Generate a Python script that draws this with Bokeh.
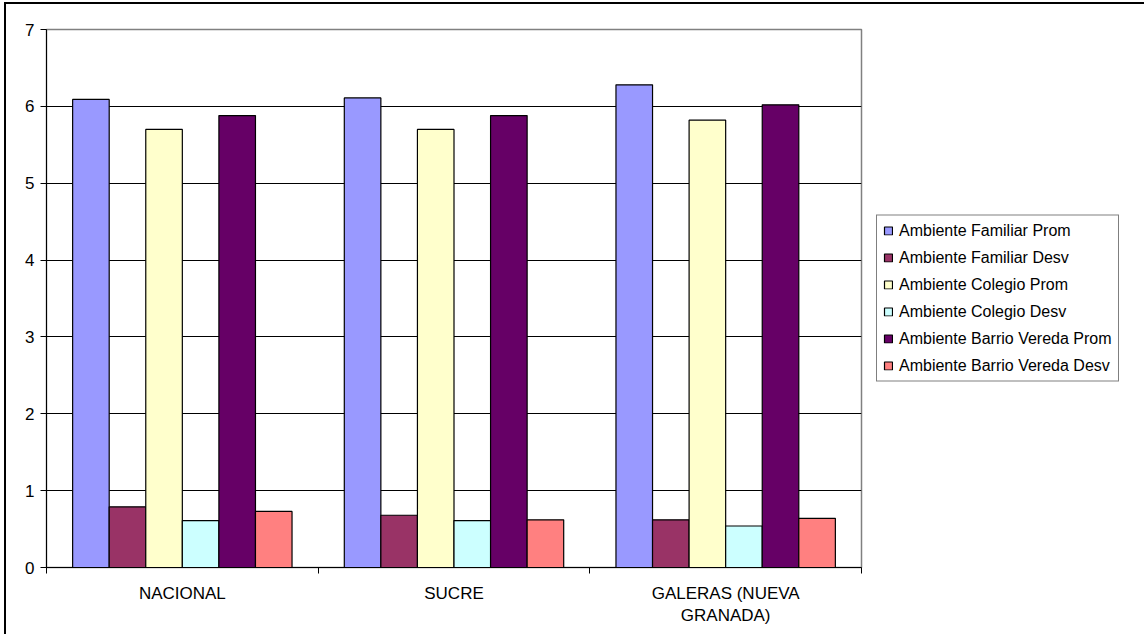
import numpy as np
from bokeh.plotting import figure
from bokeh.models import FixedTicker, Legend, LegendItem, ColumnDataSource
from bokeh.embed import file_html
from bokeh.resources import INLINE

categories = ["NACIONAL", "SUCRE", "GALERAS (NUEVA\nGRANADA)"]
series_names = [
    "Ambiente Familiar Prom",
    "Ambiente Familiar Desv",
    "Ambiente Colegio Prom",
    "Ambiente Colegio Desv",
    "Ambiente Barrio Vereda Prom",
    "Ambiente Barrio Vereda Desv",
]
familiar_prom = [6.09, 6.11, 6.28]
familiar_desv = [0.79, 0.68, 0.62]
colegio_prom = [5.70, 5.70, 5.82]
colegio_desv = [0.61, 0.61, 0.54]
barrio_prom = [5.88, 5.88, 6.02]
barrio_desv = [0.73, 0.62, 0.64]
y_ticks = [0, 1, 2, 3, 4, 5, 6, 7]

series_values = [familiar_prom, familiar_desv, colegio_prom, colegio_desv, barrio_prom, barrio_desv]
colors = ["#9999FF", "#993366", "#FFFFCC", "#CCFFFF", "#660066", "#FF8080"]

FONT = "Liberation Sans"

p = figure(
    frame_width=815, frame_height=538,
    x_range=(0, 3), y_range=(0, 7),
    output_backend="svg", toolbar_location=None,
    min_border_left=40, min_border_top=25, min_border_right=275, min_border_bottom=67,
)
p.styles = {
    "margin-left": "4px",
    "margin-top": "2px",
    "border-top": "2px solid #000000",
    "border-left": "2px solid #000000",
}

bar_w = 0.1346
cat_centers = np.arange(len(categories)) + 0.5
renderers = []
for k, (vals, col) in enumerate(zip(series_values, colors)):
    xs = cat_centers + (k - 2.5) * bar_w
    src = ColumnDataSource(dict(x=xs, top=vals))
    r = p.vbar(x="x", top="top", width=bar_w, bottom=0, source=src,
               fill_color=col, line_color="#000000", line_width=1.2)
    renderers.append(r)

# Axes
p.xaxis.ticker = FixedTicker(ticks=list(cat_centers), minor_ticks=[0, 1, 2, 3])
p.xaxis.major_label_overrides = {float(c): lab for c, lab in zip(cat_centers, categories)}
p.xaxis.major_tick_out = 0
p.xaxis.major_tick_in = 0
p.xaxis.minor_tick_out = 6
p.xaxis.minor_tick_in = 0
p.xaxis.minor_tick_line_color = "#000000"
p.xaxis.major_label_standoff = 10
p.yaxis.ticker = FixedTicker(ticks=y_ticks)
p.yaxis.major_tick_out = 6
p.yaxis.major_tick_in = 0
p.yaxis.minor_tick_line_color = None
p.yaxis.major_label_standoff = 6
for ax in (p.xaxis, p.yaxis):
    ax.axis_line_color = "#000000"
    ax.axis_line_width = 1
    ax.major_tick_line_color = "#000000"
    ax.major_label_text_font = FONT
    ax.major_label_text_font_size = "17px"
    ax.major_label_text_color = "#000000"

p.xgrid.grid_line_color = None
p.ygrid.grid_line_color = "#000000"
p.ygrid.grid_line_width = 1
p.ygrid.ticker = FixedTicker(ticks=y_ticks)

p.outline_line_color = "#808080"
p.outline_line_width = 1.5
p.background_fill_color = "#FFFFFF"
p.border_fill_color = "#FFFFFF"

legend = Legend(
    items=[LegendItem(label=n, renderers=[r]) for n, r in zip(series_names, renderers)],
    location="center_left",
    orientation="vertical",
    border_line_color="#000000",
    border_line_width=1,
    background_fill_color="#FFFFFF",
    background_fill_alpha=1,
    label_text_font=FONT,
    label_text_font_size="16px",
    label_text_color="#000000",
    glyph_width=10, glyph_height=10,
    label_height=18, spacing=9, padding=6, margin=15,
    label_standoff=6,
)
p.add_layout(legend, "right")

open("out.html", "w").write(file_html(p, INLINE))
